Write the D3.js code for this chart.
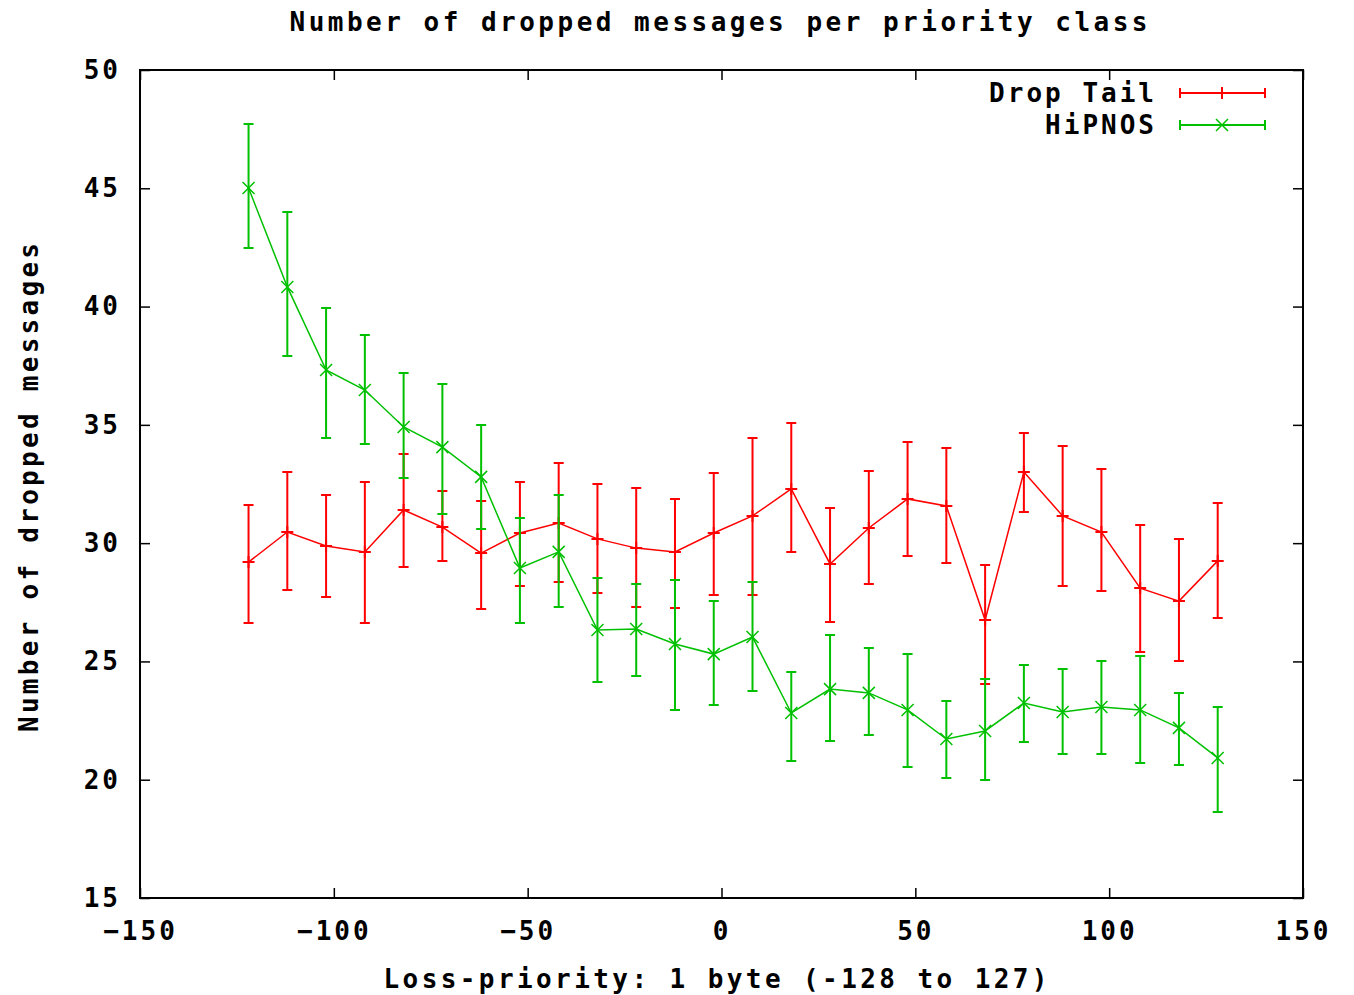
<!DOCTYPE html>
<html>
<head>
<meta charset="utf-8">
<script src="https://cdn.jsdelivr.net/npm/d3@7"></script>
<style>
  body { margin: 0; background: #fff; }
  text { font-family: "DejaVu Sans Mono", "Liberation Mono", monospace; font-size: 26px; font-weight: bold; fill: #000; letter-spacing: 3px; }
</style>
</head>
<body>
<div id="chart"></div>
<script>
// Loss priority values (x)
const priorities = [-122, -112, -102, -92, -82, -72, -62, -52, -42, -32, -22, -12, -2,
                    8, 18, 28, 38, 48, 58, 68, 78, 88, 98, 108, 118, 128];

// Drop Tail: mean, lower and upper error
const dropTailMean = [29.20, 30.47, 29.88, 29.63, 31.40, 30.68, 29.58, 30.43, 30.85, 30.18, 29.79, 29.63, 30.43,
                      31.15, 32.29, 29.12, 30.64, 31.87, 31.57, 26.75, 33.01, 31.15, 30.47, 28.10, 27.55, 29.25];
const dropTailLow  = [26.62, 28.02, 27.72, 26.62, 28.99, 29.25, 27.22, 28.19, 28.36, 27.89, 27.30, 27.26, 27.81,
                      27.81, 29.63, 26.67, 28.27, 29.46, 29.16, 24.05, 31.32, 28.19, 27.98, 25.40, 25.02, 26.84];
const dropTailHigh = [31.61, 33.01, 32.04, 32.58, 33.77, 32.20, 31.78, 32.58, 33.39, 32.50, 32.33, 31.87, 32.97,
                      34.44, 35.08, 31.49, 33.05, 34.28, 34.02, 29.08, 34.66, 34.11, 33.13, 30.77, 30.18, 31.70];

// HiPNOS: mean, lower and upper error
const hipnosMean = [45.01, 40.83, 37.32, 36.47, 34.91, 34.06, 32.80, 28.95, 29.63, 26.33, 26.37, 25.74, 25.31,
                    26.03, 22.82, 23.83, 23.67, 22.95, 21.72, 22.06, 23.24, 22.86, 23.07, 22.95, 22.19, 20.92];
const hipnosLow  = [42.48, 37.91, 34.44, 34.19, 32.75, 31.23, 30.60, 26.62, 27.30, 24.13, 24.38, 22.95, 23.16,
                    23.75, 20.79, 21.64, 21.89, 20.54, 20.07, 19.99, 21.59, 21.09, 21.09, 20.71, 20.62, 18.64];
const hipnosHigh = [47.72, 44.00, 39.94, 38.80, 37.19, 36.73, 34.99, 31.06, 32.04, 28.53, 28.27, 28.44, 27.55,
                    28.36, 24.55, 26.12, 25.57, 25.31, 23.33, 24.26, 24.85, 24.68, 25.02, 25.23, 23.67, 23.07];

const xTicks = [-150, -100, -50, 0, 50, 100, 150];
const yTicks = [15, 20, 25, 30, 35, 40, 45, 50];

const series = [
  {name: "Drop Tail", color: "#ff0000", marker: "plus", mean: dropTailMean, low: dropTailLow, high: dropTailHigh},
  {name: "HiPNOS", color: "#00c000", marker: "cross", mean: hipnosMean, low: hipnosLow, high: hipnosHigh}
];

const W = 1354, H = 995;
const margin = {top: 70, right: 51, bottom: 97, left: 140},
    width = W - margin.left - margin.right,
    height = H - margin.top - margin.bottom;

const root = d3.select("#chart").append("svg")
    .attr("width", W)
    .attr("height", H);

const svg = root.append("g")
    .attr("transform", `translate(${margin.left},${margin.top})`);

const x = d3.scaleLinear().domain([-150, 150]).range([0, width]);
const y = d3.scaleLinear().domain([15, 50]).range([height, 0]);

// ticks on all four sides, pointing inward
const tickLen = 10;
function styleAxis(g) {
    g.select(".domain").remove();
    g.selectAll(".tick line").attr("stroke", "#000").attr("stroke-width", 1.5);
}

svg.append("g")
    .attr("transform", `translate(0,${height})`)
    .call(d3.axisBottom(x).tickValues(xTicks).tickSize(-tickLen).tickFormat(d3.format("d")))
    .call(styleAxis)
    .selectAll("text")
    .attr("y", 24)
    .attr("fill", "#000")
    .style("font-size", "26px");

svg.append("g")
    .call(d3.axisTop(x).tickValues(xTicks).tickSize(-tickLen).tickFormat(""))
    .call(styleAxis);

svg.append("g")
    .call(d3.axisLeft(y).tickValues(yTicks).tickSize(-tickLen))
    .call(styleAxis)
    .selectAll("text")
    .attr("x", -19)
    .attr("fill", "#000")
    .style("font-size", "26px");

svg.append("g")
    .attr("transform", `translate(${width},0)`)
    .call(d3.axisRight(y).tickValues(yTicks).tickSize(-tickLen).tickFormat(""))
    .call(styleAxis);

// frame
svg.append("rect")
    .attr("width", width)
    .attr("height", height)
    .attr("fill", "none")
    .attr("stroke", "#000")
    .attr("stroke-width", 2);

const cap = 5, ms = 6;
function drawMarker(g, type, cx, cy, color) {
    if (type === "plus") {
        g.append("path").attr("d", `M${cx - ms},${cy}H${cx + ms}M${cx},${cy - ms}V${cy + ms}`)
            .attr("stroke", color).attr("stroke-width", 2);
    } else {
        g.append("path").attr("d", `M${cx - ms},${cy - ms}L${cx + ms},${cy + ms}M${cx - ms},${cy + ms}L${cx + ms},${cy - ms}`)
            .attr("stroke", color).attr("stroke-width", 1.5);
    }
}

series.forEach(s => {
    const pts = priorities.map((p, i) => ({x: p, m: s.mean[i], lo: s.low[i], hi: s.high[i]}));
    const g = svg.append("g");

    // error bars
    g.selectAll(".err")
        .data(pts)
        .enter()
        .append("path")
        .attr("d", d => {
            const px = x(d.x), y0 = y(d.lo), y1 = y(d.hi);
            return `M${px},${y0}V${y1}M${px - cap},${y0}H${px + cap}M${px - cap},${y1}H${px + cap}`;
        })
        .attr("fill", "none")
        .attr("stroke", s.color)
        .attr("stroke-width", 2);

    // connecting line
    g.append("path")
        .datum(pts)
        .attr("fill", "none")
        .attr("stroke", s.color)
        .attr("stroke-width", 1.5)
        .attr("d", d3.line().x(d => x(d.x)).y(d => y(d.m)));

    pts.forEach(d => drawMarker(g, s.marker, x(d.x), y(d.m), s.color));
});

// legend
const legend = root.append("g");
series.forEach((s, i) => {
    const ly = 93 + i * 32;
    legend.append("text")
        .attr("x", 1157)
        .attr("y", ly)
        .attr("dy", "0.35em")
        .attr("text-anchor", "end")
        .text(s.name);
    legend.append("path")
        .attr("d", `M1180,${ly}H1265M1180,${ly - cap}V${ly + cap}M1265,${ly - cap}V${ly + cap}`)
        .attr("stroke", s.color)
        .attr("stroke-width", 2)
        .attr("fill", "none");
    drawMarker(legend, s.marker, 1222, ly, s.color);
});

// titles
root.append("text")
    .attr("x", 720)
    .attr("y", 31)
    .attr("text-anchor", "middle")
    .attr("textLength", 861)
    .text("Number of dropped messages per priority class");

root.append("text")
    .attr("x", 717)
    .attr("y", 988)
    .attr("text-anchor", "middle")
    .attr("textLength", 667)
    .text("Loss-priority: 1 byte (-128 to 127)");

root.append("text")
    .attr("transform", "translate(38,486) rotate(-90)")
    .attr("text-anchor", "middle")
    .attr("textLength", 492)
    .text("Number of dropped messages");
</script>
</body>
</html>
